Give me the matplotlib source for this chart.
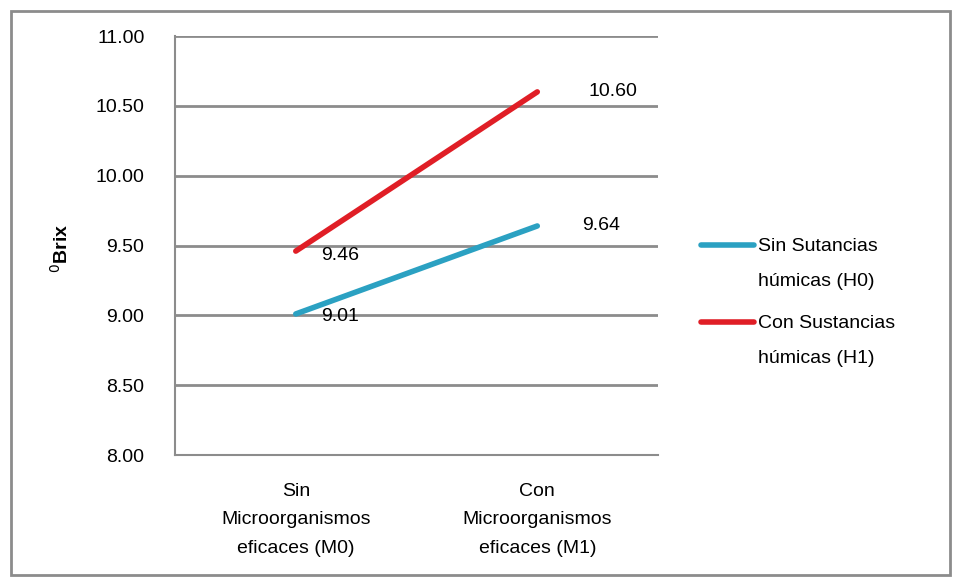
import matplotlib.pyplot as plt
from matplotlib.patches import Rectangle

# Datos
categorias = ['Sin\nMicroorganismos\neficaces (M0)', 'Con\nMicroorganismos\neficaces (M1)']
sin_humicas = [9.01, 9.64]
con_humicas = [9.46, 10.60]
series_nombres = ['Sin Sutancias\nhúmicas (H0)', 'Con Sustancias\nhúmicas (H1)']
y_ticks = [8.0, 8.5, 9.0, 9.5, 10.0, 10.5, 11.0]

plt.rcParams['font.family'] = ['Liberation Sans Narrow', 'Liberation Sans', 'DejaVu Sans']

azul = '#2BA1C2'
rojo = '#E01E26'
gris = '#8C8C8C'

fig = plt.figure(figsize=(9.57, 5.80), dpi=100)
ax = fig.add_axes([0.1829, 0.2155, 0.5047, 0.7224])

x = list(range(len(categorias)))
l1, = ax.plot(x, sin_humicas, color=azul, lw=4, solid_capstyle='round')
l2, = ax.plot(x, con_humicas, color=rojo, lw=4, solid_capstyle='round')

# etiquetas de datos
fs = 14
ax.annotate(f'{sin_humicas[0]:.2f}', (x[0], sin_humicas[0]), xytext=(18, -1.5),
            textcoords='offset points', fontsize=fs, va='center')
ax.annotate(f'{sin_humicas[1]:.2f}', (x[1], sin_humicas[1]), xytext=(32, 0),
            textcoords='offset points', fontsize=fs, va='center')
ax.annotate(f'{con_humicas[0]:.2f}', (x[0], con_humicas[0]), xytext=(18, -3),
            textcoords='offset points', fontsize=fs, va='center')
ax.annotate(f'{con_humicas[1]:.2f}', (x[1], con_humicas[1]), xytext=(37, 0),
            textcoords='offset points', fontsize=fs, va='center')

ax.set_xlim(-0.5, 1.5)
ax.set_ylim(8.0, 11.0)
ax.set_yticks(y_ticks)
ax.set_yticklabels([f'{v:.2f}' for v in y_ticks], fontsize=fs)
ax.set_xticks(x)
ax.set_xticklabels(categorias, fontsize=fs, linespacing=1.9)
ax.tick_params(length=0, pad=22, axis='y')
ax.tick_params(length=0, pad=20, axis='x')
ax.grid(axis='y', color=gris, lw=2)
ax.set_axisbelow(True)
for s in ['top', 'right']:
    ax.spines[s].set_visible(False)
for s in ['left', 'bottom']:
    ax.spines[s].set_color(gris)
    ax.spines[s].set_linewidth(1.5)
ax.set_ylabel('$^{0}$Brix', fontsize=fs, fontweight='bold')
ax.yaxis.set_label_coords(-0.213, 0.494)

leg = fig.legend([l1, l2], series_nombres, loc='upper left', bbox_to_anchor=(0.7147, 0.619),
                 frameon=False, fontsize=fs, handlelength=2.7, handletextpad=0.2,
                 labelspacing=1.3)
for t in leg.get_texts():
    t.set_linespacing(2.35)
# alinear la linea con la primera linea del texto
for col in leg._legend_handle_box.get_children():
    for fila in col.get_children():
        fila.align = 'top'

# borde exterior
fig.patches.append(Rectangle((0.012, 0.008), 0.981, 0.973, transform=fig.transFigure,
                             fill=False, edgecolor=gris, lw=2))

plt.savefig('out.png', dpi=100)
